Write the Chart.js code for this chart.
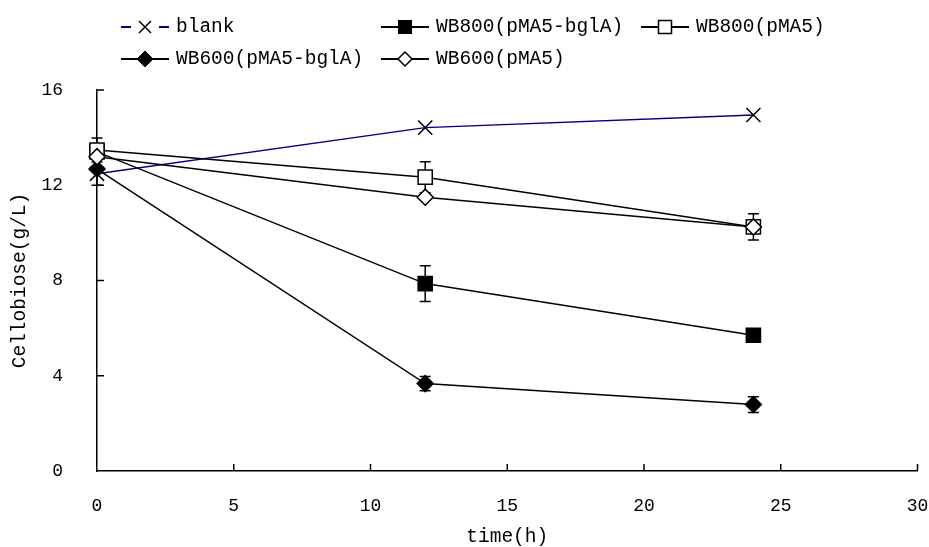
<!DOCTYPE html>
<html>
<head>
<meta charset="utf-8">
<script src="https://cdn.jsdelivr.net/npm/chart.js@4"></script>
<style>
  body { margin: 0; background: #fff; }
  #bloco { position: relative; width: 929px; height: 547px; }
  .legenda-item {
    position: absolute;
    display: flex;
    align-items: center;
    font-family: "Liberation Mono", monospace;
    font-size: 19.5px;
    color: #000;
    white-space: nowrap;
    height: 24px;
  }
  .legenda-item svg { margin-right: 7px; }
</style>
</head>
<body>
<div id="bloco">
  <canvas id="grafico" width="929" height="547"></canvas>
</div>
<script>
// dados
const tempos = [0, 12, 24];
const nomes = ["blank", "WB800(pMA5-bglA)", "WB800(pMA5)", "WB600(pMA5-bglA)", "WB600(pMA5)"];
const blank = [12.48, 14.42, 14.95];
const wb800Bgl = [13.4, 7.87, 5.7];
const wb800Bgl_erro = [0.3, 0.75, 0.12];
const wb800 = [13.48, 12.34, 10.25];
const wb800_erro = [0.5, 0.65, 0.55];
const wb600Bgl = [12.68, 3.67, 2.79];
const wb600Bgl_erro = [0.68, 0.3, 0.33];
const wb600 = [13.2, 11.5, 10.25];
const wb600_erro = [0, 0, 0.2];
const ticksX = [5, 10, 15, 20, 25, 30];
const ticksY = [4, 8, 12, 16];

const fonte = "Liberation Mono";

function pontos(valores, erros) {
  return tempos.map((t, i) => ({ x: t, y: valores[i], erro: erros ? erros[i] : 0 }));
}

// barras de erro desenhadas antes dos marcadores
const barrasErro = {
  id: "barrasErro",
  beforeDatasetsDraw(chart) {
    const { ctx, scales: { x, y } } = chart;
    ctx.save();
    ctx.strokeStyle = "#000";
    ctx.lineWidth = 1.5;
    chart.data.datasets.forEach((ds) => {
      ds.data.forEach((p) => {
        if (!p.erro) return;
        const px = x.getPixelForValue(p.x);
        const y1 = y.getPixelForValue(p.y + p.erro);
        const y2 = y.getPixelForValue(p.y - p.erro);
        ctx.beginPath();
        ctx.moveTo(px, y1); ctx.lineTo(px, y2);
        ctx.moveTo(px - 5.5, y1); ctx.lineTo(px + 5.5, y1);
        ctx.moveTo(px - 5.5, y2); ctx.lineTo(px + 5.5, y2);
        ctx.stroke();
      });
    });
    ctx.restore();
  },
};

// marcas dos eixos para dentro
const marcasInternas = {
  id: "marcasInternas",
  afterDraw(chart) {
    const { ctx, scales: { x, y }, chartArea } = chart;
    ctx.save();
    ctx.strokeStyle = "#000";
    ctx.lineWidth = 1.5;
    ctx.beginPath();
    ticksX.forEach((v) => {
      const px = x.getPixelForValue(v);
      ctx.moveTo(px, chartArea.bottom); ctx.lineTo(px, chartArea.bottom - 7);
    });
    ticksY.forEach((v) => {
      const py = y.getPixelForValue(v);
      ctx.moveTo(chartArea.left, py); ctx.lineTo(chartArea.left + 7, py);
    });
    ctx.stroke();
    ctx.restore();
  },
};

const serieBase = {
  showLine: true,
  borderColor: "#000",
  borderWidth: 1.5,
  pointBorderColor: "#000",
  pointBorderWidth: 1.5,
  clip: false,
};

new Chart(document.getElementById("grafico").getContext("2d"), {
  type: "scatter",
  plugins: [barrasErro, marcasInternas],
  data: {
    datasets: [
      { ...serieBase, label: nomes[0], data: pontos(blank), borderColor: "#000080",
        pointStyle: "crossRot", pointRadius: 10, order: 5 },
      { ...serieBase, label: nomes[1], data: pontos(wb800Bgl, wb800Bgl_erro),
        pointStyle: "rect", pointRadius: 10, pointBackgroundColor: "#000", order: 3 },
      { ...serieBase, label: nomes[2], data: pontos(wb800, wb800_erro),
        pointStyle: "rect", pointRadius: 10, pointBackgroundColor: "#fff", order: 2 },
      { ...serieBase, label: nomes[3], data: pontos(wb600Bgl, wb600Bgl_erro),
        pointStyle: "rectRot", pointRadius: 8, pointBackgroundColor: "#000", order: 4 },
      { ...serieBase, label: nomes[4], data: pontos(wb600, wb600_erro),
        pointStyle: "rectRot", pointRadius: 8, pointBackgroundColor: "#fff", order: 1 },
    ],
  },
  options: {
    responsive: false,
    animation: false,
    layout: { padding: { top: 90, right: 11, left: 0, bottom: 0 } },
    plugins: { legend: { display: false }, tooltip: { enabled: false } },
    scales: {
      x: {
        type: "linear",
        min: 0,
        max: 30,
        afterFit: (s) => { s.height = 76; s.paddingLeft = 0; s.paddingRight = 0; },
        grid: { display: false, drawTicks: false },
        border: { display: true, color: "#000", width: 1.5 },
        ticks: { stepSize: 5, padding: 24, color: "#000", font: { family: fonte, size: 18 } },
        title: { display: true, text: "time(h)", color: "#000",
          font: { family: fonte, size: 19.5, lineHeight: 1 }, padding: 0 },
      },
      y: {
        min: 0,
        max: 16,
        afterFit: (s) => { s.width = 97; s.paddingTop = 0; s.paddingBottom = 0; },
        grid: { display: false, drawTicks: false },
        border: { display: true, color: "#000", width: 1.5 },
        ticks: { stepSize: 4, padding: 34, color: "#000", font: { family: fonte, size: 18 } },
        title: { display: true, text: "Cellobiose(g/L)", color: "#000",
          font: { family: fonte, size: 19.5, lineHeight: 1 }, padding: { top: 10, bottom: 0 } },
      },
    },
  },
});

// legenda customizada em grade
function icone(estilo, corLinha) {
  let marca = "";
  if (estilo === "cruz") {
    marca = '<path d="M18 5 L30 17 M30 5 L18 17" stroke="#000" stroke-width="1.5"/>';
    return `<svg width="48" height="22"><path d="M0 11 H10 M38 11 H48" stroke="${corLinha}" stroke-width="1.8"/>${marca}</svg>`;
  }
  if (estilo === "quadradoCheio") marca = '<rect x="17.5" y="4.5" width="13" height="13" fill="#000" stroke="#000"/>';
  if (estilo === "quadradoVazio") marca = '<rect x="17.5" y="4.5" width="13" height="13" fill="#fff" stroke="#000" stroke-width="1.5"/>';
  if (estilo === "losangoCheio") marca = '<path d="M24 3 L32 11 L24 19 L16 11 Z" fill="#000" stroke="#000"/>';
  if (estilo === "losangoVazio") marca = '<path d="M24 4 L31 11 L24 18 L17 11 Z" fill="#fff" stroke="#000" stroke-width="1.5"/>';
  return `<svg width="48" height="22"><path d="M0 11 H48" stroke="${corLinha}" stroke-width="1.8"/>${marca}</svg>`;
}

const itensLegenda = [
  { texto: nomes[0], estilo: "cruz", cor: "#000080", x: 121, y: 15 },
  { texto: nomes[1], estilo: "quadradoCheio", cor: "#000", x: 381, y: 15 },
  { texto: nomes[2], estilo: "quadradoVazio", cor: "#000", x: 641, y: 15 },
  { texto: nomes[3], estilo: "losangoCheio", cor: "#000", x: 121, y: 47 },
  { texto: nomes[4], estilo: "losangoVazio", cor: "#000", x: 381, y: 47 },
];
const bloco = document.getElementById("bloco");
itensLegenda.forEach((it) => {
  const item = document.createElement("div");
  item.className = "legenda-item";
  item.style.left = it.x + "px";
  item.style.top = it.y + "px";
  item.innerHTML = icone(it.estilo, it.cor) + `<span>${it.texto}</span>`;
  bloco.appendChild(item);
});
</script>
</body>
</html>
